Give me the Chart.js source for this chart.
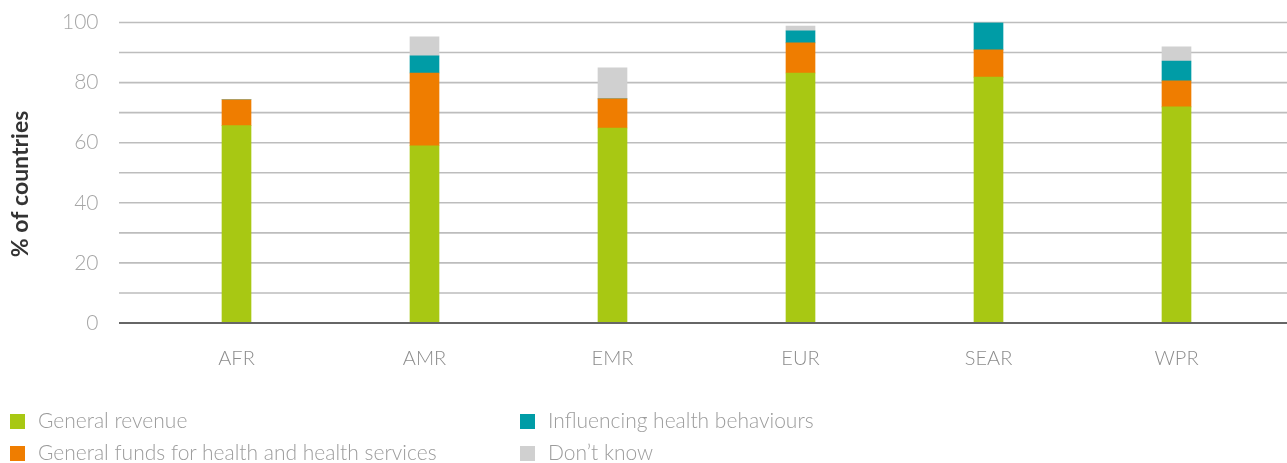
<!DOCTYPE html>
<html>
<head>
<meta charset="utf-8">
<script src="https://cdn.jsdelivr.net/npm/chart.js@4.4.1/dist/chart.umd.min.js"></script>
<style>
  body { margin: 0; background: #fff; }
  #wrap { position: relative; width: 1287px; height: 463px; }
  #legend { position: absolute; left: 10px; top: 409px; width: 1200px; font-family: Lato, "Open Sans", sans-serif; font-weight: 300; font-size: 21px; color: #9c9c9c; }
  .item { position: absolute; white-space: nowrap; line-height: 21px; }
  .item span.box { display: inline-block; width: 15px; height: 15px; margin-right: 13px; vertical-align: -1px; }
</style>
</head>
<body>
<div id="wrap">
  <canvas id="chart" width="1287" height="463"></canvas>
  <div id="legend"></div>
</div>
<script>
const regions = ["AFR", "AMR", "EMR", "EUR", "SEAR", "WPR"];
const seriesNames = ["General revenue", "General funds for health and health services", "Influencing health behaviours", "Don\u2019t know"];
const generalRevenue = [65.7, 59.0, 64.9, 83.2, 81.8, 71.9];
const generalFunds   = [8.6, 24.2, 9.7, 10.0, 9.1, 8.7];
const influencing    = [0, 5.7, 0, 4.0, 9.1, 6.6];
const dontKnow       = [0, 6.3, 10.3, 1.6, 0, 4.7];
const yTicks = [0, 20, 40, 60, 80, 100];

const colors = ["#a8c813", "#ef7d00", "#009ca6", "#d0d0d0"];
const values = [generalRevenue, generalFunds, influencing, dontKnow];

// horizontal grid lines run wider than the plot area
const gridPlugin = {
  id: "wideGrid",
  beforeDatasetsDraw(chart) {
    const { ctx, chartArea, scales } = chart;
    const left = chartArea.left - 23.5, right = chart.width;
    ctx.save();
    ctx.strokeStyle = "#bdbdbd";
    ctx.lineWidth = 1.6;
    for (let v = 10; v <= 100; v += 10) {
      const y = scales.y.getPixelForValue(v);
      ctx.beginPath(); ctx.moveTo(left, y); ctx.lineTo(right, y); ctx.stroke();
    }
    ctx.restore();
  },
  afterDatasetsDraw(chart) {
    const { ctx, chartArea, scales } = chart;
    const y = scales.y.getPixelForValue(0);
    ctx.save();
    ctx.strokeStyle = "#666";
    ctx.lineWidth = 2;
    ctx.beginPath(); ctx.moveTo(chartArea.left - 23.5, y); ctx.lineTo(chart.width, y); ctx.stroke();
    ctx.restore();
  }
};

const font = { family: "Lato, 'Open Sans', sans-serif", weight: 300 };

let myChart = new Chart(document.getElementById("chart"), {
  type: "bar",
  plugins: [gridPlugin],
  data: {
    labels: regions,
    datasets: seriesNames.map((name, i) => ({
      label: name,
      data: values[i],
      backgroundColor: colors[i],
      barThickness: 29,
    })),
  },
  options: {
    responsive: false,
    animation: false,
    layout: { padding: { top: 22.5, right: 16.5, bottom: 68, left: 0 } },
    plugins: {
      legend: { display: false },
      tooltip: { enabled: false },
    },
    scales: {
      x: {
        stacked: true,
        grid: { display: false, drawTicks: false },
        border: { display: false },
        ticks: { color: "#8c8c8c", padding: 24, font: { ...font, size: 20 } },
      },
      y: {
        stacked: true,
        min: 0,
        max: 100,
        afterFit(scale) { scale.width = 142.5; },
        afterBuildTicks(scale) { scale.ticks = yTicks.map(v => ({ value: v })); },
        // invisible tick marks push the labels away from the plot area
        grid: { display: true, drawOnChartArea: false, drawTicks: true, tickLength: 36, tickColor: "rgba(0,0,0,0)" },
        border: { display: false },
        ticks: { color: "#a6a6a6", padding: 8, font: { ...font, size: 21 } },
        title: {
          display: true,
          text: "% of countries    ",
          color: "#333",
          padding: { top: 7, bottom: 0 },
          font: { family: "Lato, 'Open Sans', sans-serif", weight: "bold", size: 23 },
        },
      },
    },
  },
});

// two-column legend under the chart
const legend = document.getElementById("legend");
const pos = [[0, 0], [0, 32], [510, 0], [510, 32]];
seriesNames.forEach((name, i) => {
  const d = document.createElement("div");
  d.className = "item";
  d.style.left = pos[i][0] + "px";
  d.style.top = pos[i][1] + "px";
  d.innerHTML = '<span class="box" style="background:' + colors[i] + '"></span>' + name;
  legend.appendChild(d);
});
</script>
</body>
</html>
